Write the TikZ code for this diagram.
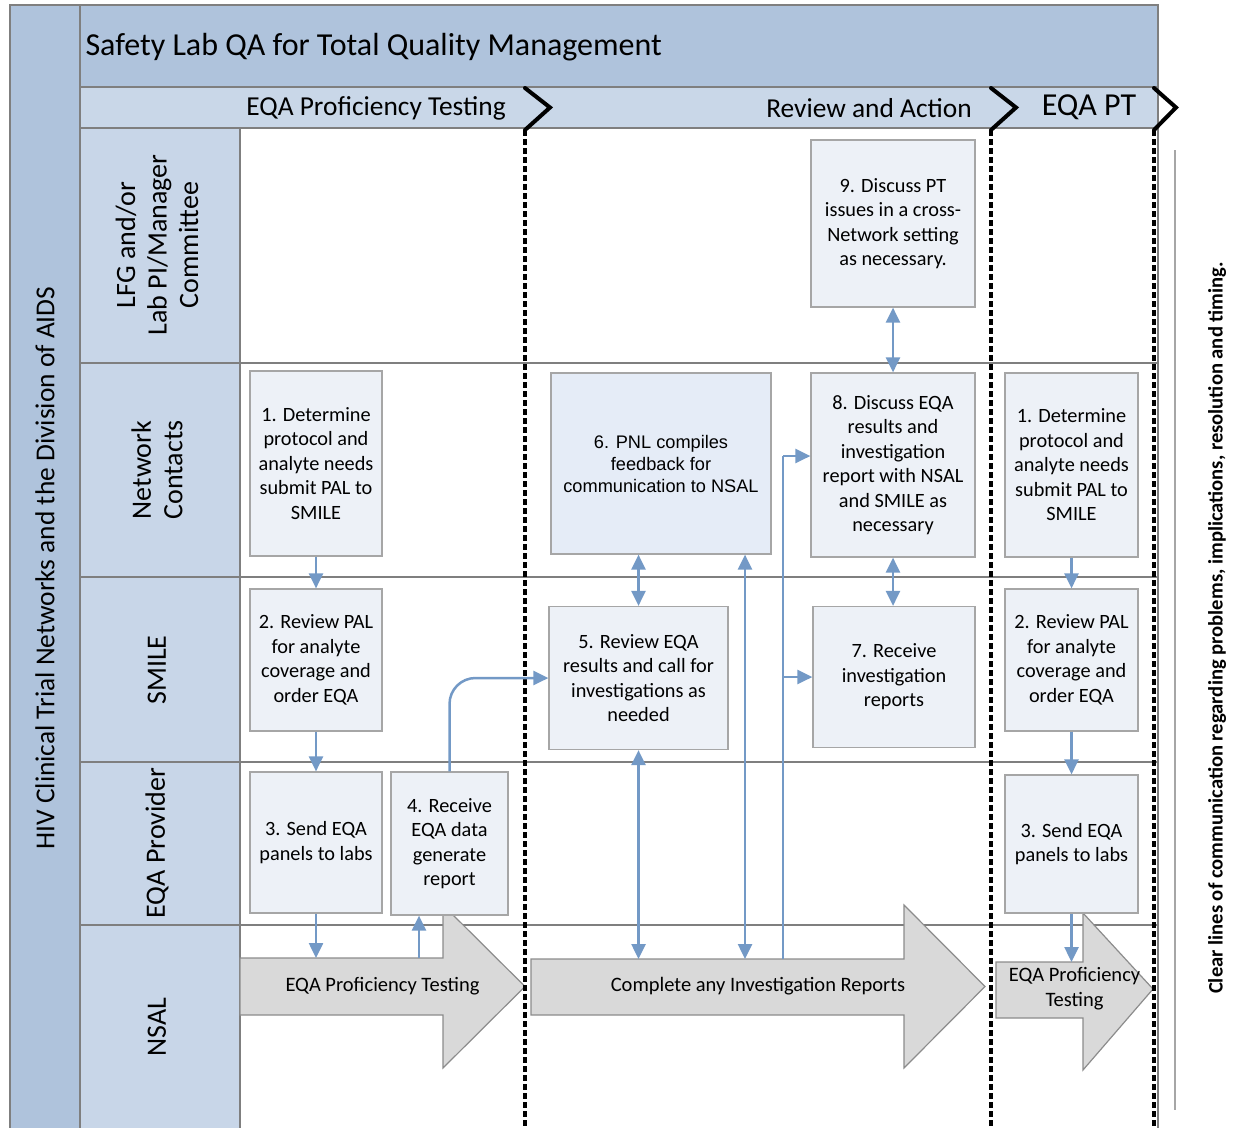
\documentclass[tikz,border=0pt]{standalone}
\usepackage{fontspec}
\setmainfont{Carlito}
\newfontfamily\arialfont{Liberation Sans}
\usetikzlibrary{arrows.meta}
\definecolor{titlefill}{HTML}{AFC3DC}
\definecolor{phasefill}{HTML}{C9D7E8}
\definecolor{lanefill}{HTML}{C8D6E8}
\definecolor{boxfill}{HTML}{EDF1F7}
\definecolor{pnlfill}{HTML}{E5ECF7}
\definecolor{boxline}{HTML}{A6A6A6}
\definecolor{arrowblue}{HTML}{7399C6}
\definecolor{bigfill}{HTML}{D9D9D9}
\definecolor{bigline}{HTML}{8C8C8C}
\definecolor{gridline}{HTML}{7F7F7F}
\begin{document}
\begin{tikzpicture}[x=1pt,y=-1pt,
  frame/.style={draw=gridline, line width=1.2pt},
  stepbox/.style={draw=boxline, fill=boxfill, line width=1.2pt, align=center,
    inner sep=0pt, font=\fontsize{20.3}{24.5}\selectfont},
  lanelabel/.style={rotate=90, align=center, font=\fontsize{28}{31.5}\selectfont},
  phaselabel/.style={font=\fontsize{27.4}{30}\selectfont},
  bigarrow/.style={fill=bigfill, draw=bigline, line width=1.2pt},
  bigtext/.style={align=center, font=\fontsize{20.5}{25}\selectfont},
  phasebreak/.style={draw=black, line width=4pt, dash pattern=on 5.5pt off 3.5pt},
  chevron/.style={draw=black, line width=4pt, line cap=round, line join=miter},
  flow/.style={draw=arrowblue, line width=2.5pt, -{Triangle[width=14pt,length=15pt]}},
  flowboth/.style={draw=arrowblue, line width=2.5pt,
    {Triangle[width=14pt,length=15pt]}-{Triangle[width=14pt,length=15pt]}},
  flowline/.style={draw=arrowblue, line width=2.5pt}
]
\useasboundingbox (0,0) rectangle (1252,1127);
\clip (0,0) rectangle (1252,1127);

% pool, header bars and lane label column
\fill[titlefill] (10,5) rectangle (80,1140);
\fill[titlefill] (80,5) rectangle (1158,87);
\fill[phasefill] (80,87) rectangle (1158,128);
\fill[lanefill] (80,128) rectangle (240,1140);
\draw[frame] (10,1140) -- (10,5) -- (1158,5) -- (1158,1140);
\draw[frame] (80,5) -- (80,1140);
\draw[frame] (80,87) -- (1158,87);
\draw[frame] (80,128) -- (1158,128);
\draw[frame] (240,128) -- (240,1140);
\foreach \yy in {363,577,762,925} \draw[frame] (80,\yy) -- (1158,\yy);

% titles
\node[rotate=90, font=\fontsize{27.4}{30}\selectfont] (pool) at (45,568)
  {HIV Clinical Trial Networks and the Division of AIDS};
\node[anchor=west, font=\fontsize{32}{36}\selectfont] (title) at (82,47.5)
  {Safety Lab QA for Total Quality Management};
\node[phaselabel] (ph1) at (376,108) {EQA Proficiency Testing};
\node[phaselabel] (ph2) at (869,108) {Review and Action};
\node[phaselabel, font=\fontsize{32}{34}\selectfont] (ph3) at (1089,107.5) {EQA PT};

% lane labels
\node[lanelabel] (lane1) at (157,245) {LFG and/or\\Lab PI/Manager\\Committee};
\node[lanelabel] (lane2) at (157,470) {Network\\Contacts};
\node[lanelabel] (lane3) at (157,670) {SMILE};
\node[lanelabel] (lane4) at (157,843) {EQA Provider};
\node[lanelabel] (lane5) at (157,1027) {NSAL};

% phase block arrows in the NSAL lane
\draw[bigarrow] (240,958) -- (443,958) -- (443,905) -- (525,986.5) -- (443,1068)
  -- (443,1015) -- (240,1015) -- cycle;
\draw[bigarrow] (531,959) -- (904,959) -- (904,905) -- (985,986.5) -- (904,1068)
  -- (904,1015) -- (531,1015) -- cycle;
\draw[bigarrow] (996,962) -- (1083,962) -- (1083,913) -- (1153,989) -- (1083,1070)
  -- (1083,1018) -- (996,1018) -- cycle;
\node[bigtext] (pt1) at (382.5,986.5) {EQA Proficiency Testing};
\node[bigtext] (inv) at (758,986.5) {Complete any Investigation Reports};
\node[bigtext] (pt2) at (1074.5,989) {EQA Proficiency\\Testing};
\coordinate (a1top) at (0,958);
\coordinate (a2top) at (0,959);
\coordinate (a3top) at (0,962);

% phase separators
\draw[phasebreak] (525,130) -- (525,1140);
\draw[phasebreak] (991,130) -- (991,1140);
\draw[phasebreak] (1154,130) -- (1154,1140);
\draw[chevron] (525,88) -- (550,107.5) -- (525,130);
\draw[chevron] (991,88) -- (1016,107.5) -- (991,130);
\draw[chevron] (1154,88) -- (1176,107.5) -- (1154,130);

% process steps
\node[stepbox, minimum width=132pt, minimum height=185pt] (b1) at (316,463.5)
  {1. Determine\\protocol and\\analyte needs\\submit PAL to\\SMILE};
\node[stepbox, minimum width=132pt, minimum height=142pt] (b2) at (316,660)
  {2. Review PAL\\for analyte\\coverage and\\order EQA};
\node[stepbox, minimum width=132pt, minimum height=141pt] (b3) at (316,842.5)
  {3. Send EQA\\panels to labs};
\node[stepbox, minimum width=117pt, minimum height=143pt] (b4) at (449.5,843.5)
  {4. Receive\\EQA data\\generate\\report};
\node[stepbox, minimum width=179pt, minimum height=143pt] (b5) at (638.5,678)
  {5. Review EQA\\results and call for\\investigations as\\needed};
\node[stepbox, fill=pnlfill, minimum width=220pt, minimum height=181pt,
  font=\arialfont\fontsize{18.2}{22}\selectfont] (b6) at (661,463.5)
  {6. PNL compiles\\feedback for\\communication to NSAL};
\node[stepbox, minimum width=162pt, minimum height=141pt] (b7) at (894,677)
  {7. Receive\\investigation\\reports};
\node[stepbox, minimum width=164pt, minimum height=184pt] (b8) at (893,465)
  {8. Discuss EQA\\results and\\investigation\\report with NSAL\\and SMILE as\\necessary};
\node[stepbox, minimum width=164pt, minimum height=167pt] (b9) at (893,223.5)
  {9. Discuss PT\\issues in a cross-\\Network setting\\as necessary.};
\node[stepbox, minimum width=133pt, minimum height=184pt] (c1) at (1071.5,465)
  {1. Determine\\protocol and\\analyte needs\\submit PAL to\\SMILE};
\node[stepbox, minimum width=133pt, minimum height=142pt] (c2) at (1071.5,660)
  {2. Review PAL\\for analyte\\coverage and\\order EQA};
\node[stepbox, minimum width=133pt, minimum height=138pt] (c3) at (1071.5,844)
  {3. Send EQA\\panels to labs};

% flows
\draw[flow] (b1.south) -- (b2.north);
\draw[flow] (b2.south) -- (b3.north);
\draw[flow] (b3.south) -- (b3.south |- a1top);
\coordinate (a1up) at (419,958);
\draw[flow] (a1up) -- (a1up |- b4.south);
\draw[flow, rounded corners=26pt] (b4.north) |- (b5.west);
\draw[flowboth] (b5.north) -- (b5.north |- b6.south);
\draw[flowboth] (b5.south) -- (b5.south |- a2top);
\coordinate (a2fb) at (745,959);
\draw[flowboth] (a2fb |- b6.south) -- (a2fb);
\coordinate (a2rep) at (783,959);
\draw[flowline] (a2rep) -- (a2rep |- 0,456);
\draw[flow] (a2rep |- 0,456) -- (b8.west |- 0,456);
\draw[flow] (a2rep |- b7.west) -- (b7.west);
\draw[flowboth] (b8.south) -- (b8.south |- b7.north);
\draw[flowboth] (b9.south) -- (b8.north);
\draw[flow] (c1.south) -- (c2.north);
\draw[flow] (c2.south) -- (c3.north);
\draw[flow] (c3.south) -- (c3.south |- a3top);

% communication note
\draw[draw=boxline, line width=1.2pt] (1175,150) -- (1175,1110);
\node[rotate=90, font=\bfseries\fontsize{20.6}{24}\selectfont] (note) at (1217,628)
  {Clear lines of communication regarding problems, implications, resolution and timing.};
\end{tikzpicture}
\end{document}
